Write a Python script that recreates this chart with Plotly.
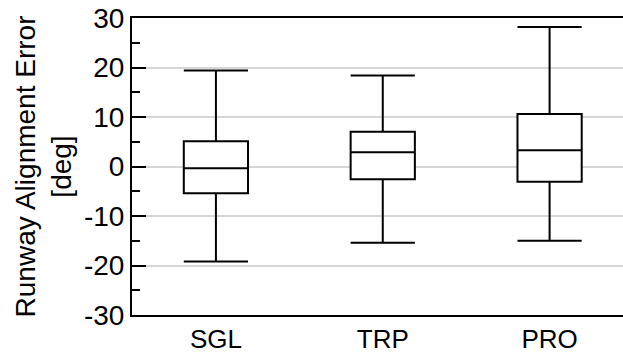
import plotly.graph_objects as go

categories = ["SGL", "TRP", "PRO"]
lower_whisker = [-19.2, -15.4, -15.0]
q1_values = [-5.4, -2.6, -3.1]
median_values = [-0.35, 2.9, 3.3]
q3_values = [5.1, 7.0, 10.6]
upper_whisker = [19.4, 18.4, 28.2]
y_tick_values = [-30, -20, -10, 0, 10, 20, 30]
y_tick_labels = ["-30", "-20", "-10", "0", "10", "20", "30"]

FONT = "'Liberation Sans', Arial, sans-serif"

fig = go.Figure()
fig.add_trace(go.Box(
    x=categories,
    q1=q1_values,
    median=median_values,
    q3=q3_values,
    lowerfence=lower_whisker,
    upperfence=upper_whisker,
    width=0.385,
    whiskerwidth=1,
    fillcolor="white",
    line=dict(color="black", width=2),
    boxpoints=False,
    hoverinfo="skip",
    showlegend=False,
))

fig.update_layout(
    width=623, height=354,
    margin=dict(l=132, r=0, t=18, b=37),
    paper_bgcolor="white", plot_bgcolor="white",
    font=dict(family=FONT, color="black"),
)
fig.update_xaxes(
    range=[-0.503, 2.44],
    showline=True, linecolor="black", linewidth=2, mirror=True,
    showgrid=False, zeroline=False, ticks="",
    tickfont=dict(size=26, family=FONT, color="black"),
)
fig.update_yaxes(
    range=[-30, 30],
    tickvals=y_tick_values, ticktext=y_tick_labels,
    showline=True, linecolor="black", linewidth=2,
    showgrid=True, gridcolor="#d6d6d6", gridwidth=2,
    zeroline=False,
    ticks="inside", ticklen=14, tickwidth=2, tickcolor="black",
    minor=dict(dtick=5, tick0=0, ticks="inside", ticklen=8, tickwidth=2,
               tickcolor="black", showgrid=False),
    tickfont=dict(size=28, family=FONT, color="black"),
    title=dict(text="Runway Alignment Error<br>[deg]",
               font=dict(size=28, family=FONT, color="black"), standoff=4),
)

fig.write_html("out.html")
